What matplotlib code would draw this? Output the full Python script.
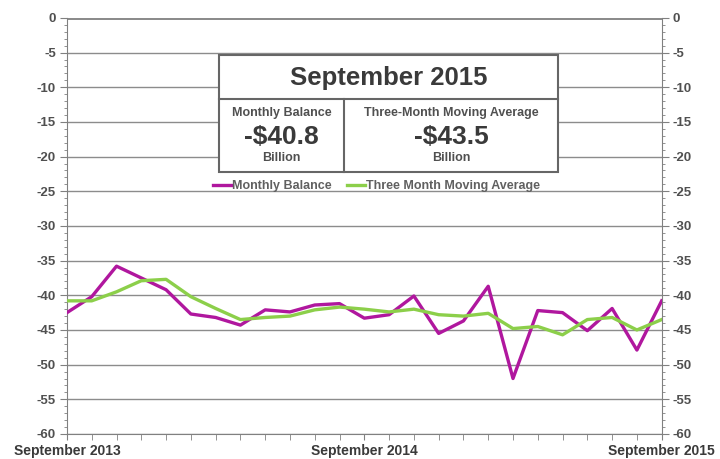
import matplotlib.pyplot as plt
from matplotlib.patches import Rectangle
from matplotlib.ticker import MultipleLocator

# =========================
# DATA (billions of dollars)
# =========================
months = list(range(25))  # September 2013 .. September 2015
x_labels = ["September 2013", "September 2014", "September 2015"]
x_label_pos = [0, 12, 24]

monthly_balance = [
    -42.5, -40.2, -35.8, -37.5, -39.2, -42.7, -43.2, -44.3, -42.1, -42.4,
    -41.4, -41.2, -43.3, -42.8, -40.1, -45.5, -43.7, -38.7, -52.0, -42.2,
    -42.5, -45.1, -41.9, -47.9, -40.8,
]
moving_average = [
    -40.8, -40.8, -39.5, -37.9, -37.7, -40.2, -41.9, -43.5, -43.2, -43.0,
    -42.1, -41.7, -42.0, -42.4, -42.0, -42.8, -43.0, -42.6, -44.8, -44.5,
    -45.7, -43.5, -43.2, -45.0, -43.5,
]

box_title = "September 2015"
box_left = ("Monthly Balance", "-$40.8", "Billion")
box_right = ("Three-Month Moving Average", "-$43.5", "Billion")

MAGENTA = "#b0179e"
GREEN = "#8ccf4a"
TXT = "#3a3a3a"

plt.rcParams["font.family"] = ["Liberation Sans", "DejaVu Sans"]
plt.rcParams["axes.unicode_minus"] = False

fig = plt.figure(figsize=(7.2, 4.59), dpi=100)
ax = fig.add_axes([0.093, 0.0545, 0.826, 0.9065])

ax.plot(months, monthly_balance, color=MAGENTA, lw=2.4, label="Monthly Balance", zorder=3)
ax.plot(months, moving_average, color=GREEN, lw=2.4, label="Three Month Moving Average", zorder=3)

ax.set_xlim(0, 24)
ax.set_ylim(-60, 0)
ax.yaxis.set_major_locator(MultipleLocator(5))
ax.yaxis.set_minor_locator(MultipleLocator(1))
ax.set_xticks(months, minor=True)
ax.set_xticks(x_label_pos)
ax.set_xticklabels(x_labels, fontsize=10, fontweight="bold", color=TXT)
ax.tick_params(axis="x", which="both", length=4, color="#808080", pad=3)
ax.tick_params(axis="y", which="major", length=5, color="#808080",
               labelsize=9.5, labelcolor="#505050", left=True, right=True,
               labelleft=True, labelright=True, pad=3)
ax.tick_params(axis="y", which="minor", length=2.5, color="#808080", left=True, right=True)
for lab in ax.get_yticklabels():
    lab.set_fontweight("bold")

ax.grid(axis="y", which="major", color="#8c8c8c", lw=1.0, zorder=0)
ax.axhline(0, color="#808080", lw=2, zorder=1)
for s in ["left", "right", "bottom"]:
    ax.spines[s].set_color("#808080")
ax.spines["top"].set_visible(False)

# summary box
bx0, bx1, by0, by1 = 0.255, 0.826, 0.629, 0.912
div_y, div_x = 0.806, 0.466
ax.add_patch(Rectangle((bx0, by0), bx1 - bx0, by1 - by0, transform=ax.transAxes,
                       facecolor="white", edgecolor="#666666", lw=1.5, zorder=4))
ax.plot([bx0, bx1], [div_y, div_y], transform=ax.transAxes, color="#666666", lw=1.5, zorder=5)
ax.plot([div_x, div_x], [by0, div_y], transform=ax.transAxes, color="#666666", lw=1.5, zorder=5)

ax.text((bx0 + bx1) / 2, 0.856, box_title, transform=ax.transAxes,
        ha="center", va="center", fontsize=18.5, fontweight="bold", color=TXT, zorder=6)
for cx, (head, val, unit) in [((bx0 + div_x) / 2, box_left), ((div_x + bx1) / 2, box_right)]:
    ax.text(cx, 0.772, head, transform=ax.transAxes, ha="center", va="center",
            fontsize=9, fontweight="bold", color="#505050", zorder=6)
    ax.text(cx, 0.713, val, transform=ax.transAxes, ha="center", va="center",
            fontsize=19, fontweight="bold", color=TXT, zorder=6)
    ax.text(cx, 0.663, unit, transform=ax.transAxes, ha="center", va="center",
            fontsize=9, fontweight="bold", color="#505050", zorder=6)

leg = ax.legend(loc="upper center", bbox_to_anchor=(0.52, 0.622), ncol=2, frameon=False,
                fontsize=9, handlelength=1.5, handletextpad=0.05, columnspacing=1.2,
                borderaxespad=0)
for t in leg.get_texts():
    t.set_color("#606060")
    t.set_fontweight("bold")

fig.savefig("out.png", dpi=100)
